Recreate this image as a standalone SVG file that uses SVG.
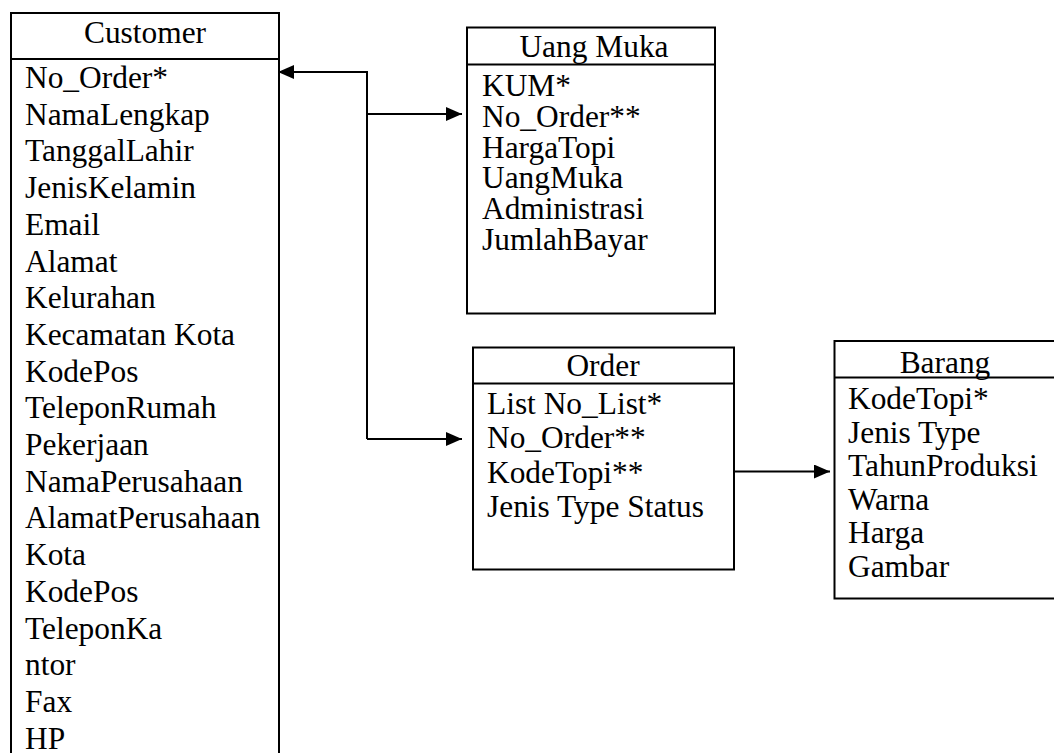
<svg xmlns="http://www.w3.org/2000/svg" width="1054" height="753" viewBox="0 0 1054 753">
<style>
.box{fill:#fff;stroke:#000;stroke-width:2}
.sep{stroke:#000;stroke-width:2}
.t{font-family:"Liberation Serif","Times New Roman",serif;font-size:31.4px;fill:#000}
.h{text-anchor:middle}
.c{fill:none;stroke:#000;stroke-width:2}
</style>
<defs>
<marker id="ah" viewBox="0 0 16 14" refX="16" refY="7" markerWidth="16" markerHeight="14" markerUnits="userSpaceOnUse" orient="auto">
<path d="M0,0 L16,7 L0,14 Z" fill="#000"/>
</marker>
</defs>
<rect width="1054" height="753" fill="#fff"/>

<g id="customer">
<rect class="box" x="11" y="13" width="268" height="770"/>
<line class="sep" x1="11" y1="59" x2="279" y2="59"/>
<text class="t h" x="145" y="43">Customer</text>
<text class="t" x="25" y="88">No_Order*</text>
<text class="t" x="25" y="124.7">NamaLengkap</text>
<text class="t" x="25" y="161.4">TanggalLahir</text>
<text class="t" x="25" y="198.1">JenisKelamin</text>
<text class="t" x="25" y="234.8">Email</text>
<text class="t" x="25" y="271.5">Alamat</text>
<text class="t" x="25" y="308.2">Kelurahan</text>
<text class="t" x="25" y="344.9">Kecamatan Kota</text>
<text class="t" x="25" y="381.6">KodePos</text>
<text class="t" x="25" y="418.3">TeleponRumah</text>
<text class="t" x="25" y="455">Pekerjaan</text>
<text class="t" x="25" y="491.7">NamaPerusahaan</text>
<text class="t" x="25" y="528.4">AlamatPerusahaan</text>
<text class="t" x="25" y="565.1">Kota</text>
<text class="t" x="25" y="601.8">KodePos</text>
<text class="t" x="25" y="638.5">TeleponKa</text>
<text class="t" x="25" y="675.2">ntor</text>
<text class="t" x="25" y="711.9">Fax</text>
<text class="t" x="25" y="748.6">HP</text>
</g>

<g id="uangmuka">
<rect class="box" x="467" y="27.5" width="248" height="286"/>
<line class="sep" x1="467" y1="64.5" x2="715" y2="64.5"/>
<text class="t h" x="594" y="57">Uang Muka</text>
<text class="t" x="482" y="96">KUM*</text>
<text class="t" x="482" y="126.8">No_Order**</text>
<text class="t" x="482" y="157.6">HargaTopi</text>
<text class="t" x="482" y="188.4">UangMuka</text>
<text class="t" x="482" y="219.2">Administrasi</text>
<text class="t" x="482" y="250">JumlahBayar</text>
</g>

<g id="order">
<rect class="box" x="473" y="347.5" width="261" height="222"/>
<line class="sep" x1="473" y1="383.5" x2="734" y2="383.5"/>
<text class="t h" x="603" y="376">Order</text>
<text class="t" x="487" y="413.5">List No_List*</text>
<text class="t" x="487" y="448">No_Order**</text>
<text class="t" x="487" y="482.5">KodeTopi**</text>
<text class="t" x="487" y="517">Jenis Type Status</text>
</g>

<g id="barang">
<rect class="box" x="834.5" y="341" width="222" height="257.5"/>
<line class="sep" x1="834.5" y1="377.5" x2="1056" y2="377.5"/>
<text class="t h" x="945" y="373">Barang</text>
<text class="t" x="848" y="409">KodeTopi*</text>
<text class="t" x="848" y="442.6">Jenis Type</text>
<text class="t" x="848" y="476.2">TahunProduksi</text>
<text class="t" x="848" y="509.8">Warna</text>
<text class="t" x="848" y="543.4">Harga</text>
<text class="t" x="848" y="577">Gambar</text>
</g>

<g id="connectors">
<path class="c" d="M367,439 V72 H278" marker-end="url(#ah)"/>
<path class="c" d="M367,114 H462" marker-end="url(#ah)"/>
<path class="c" d="M367,439 H462" marker-end="url(#ah)"/>
<path class="c" d="M734,471.5 H830" marker-end="url(#ah)"/>
</g>
</svg>
